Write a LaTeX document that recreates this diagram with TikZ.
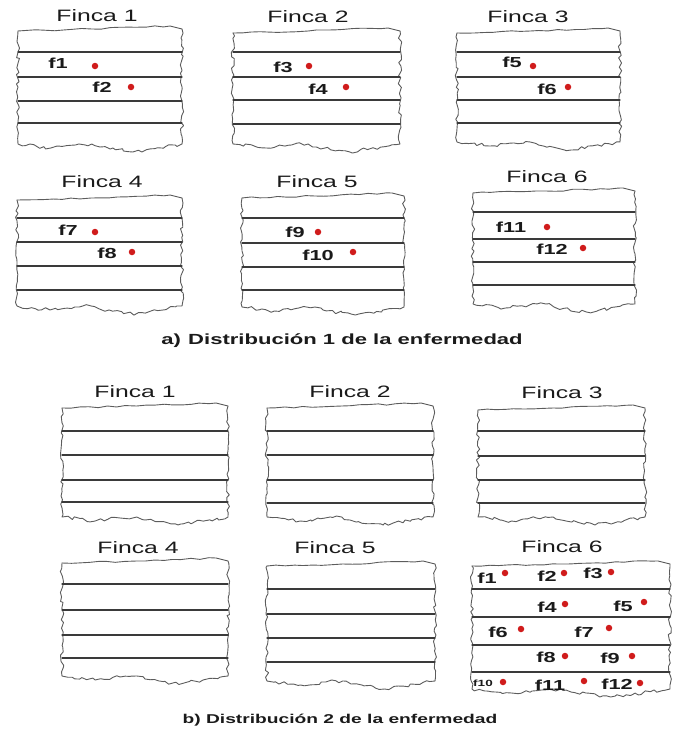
\documentclass[tikz,border=0pt]{standalone}
\usepackage{fontspec}
\setmainfont{Liberation Sans}
\newfontfamily\widesans[FakeStretch=1.5]{Liberation Sans}
\usetikzlibrary{decorations.pathmorphing}
\definecolor{ink}{HTML}{1A1A1A}
\definecolor{ink2}{HTML}{5C5C5C}
\definecolor{furrowc}{HTML}{3A3A3A}
\definecolor{lesion}{HTML}{D01C1C}
\tikzset{
  every picture/.style={line cap=round, line join=round},
  rimtop/.style={draw=ink2, line width=0.9pt, decorate,
    decoration={random steps, segment length=9pt, amplitude=0.8pt}},
  rimside/.style={draw=ink2, line width=0.9pt, decorate,
    decoration={random steps, segment length=4pt, amplitude=1.7pt}},
  furrow/.style={draw=furrowc, line width=1.3pt},
  title/.style={font=\widesans\fontsize{16.5}{18}\selectfont, text=ink, inner sep=0pt},
  flbl/.style={font=\widesans\bfseries\fontsize{14.5}{16}\selectfont, text=ink, inner sep=0pt},
  hit/.style={circle, fill=lesion, draw=none, inner sep=0pt, minimum size=6.5pt},
  capt/.style={font=\widesans\bfseries\fontsize{14.7}{17}\selectfont, text=ink, inner sep=0pt},
}

\begin{document}
\begin{tikzpicture}[x=1pt, y=-1pt]
  \useasboundingbox (0,0) rectangle (675,731);
  \pgfmathsetseed{12}
  % =================== (a) distribucion 1 ===================
  \foreach \n/\l/\r/\t/\b/\ys/\tx/\ty in {
      1/18/182/28/150/{52,77,101,123}/97/16,
      2/233/400/30/150/{52,77,100,124}/308/17,
      3/457/620/30/148/{52,77,100,123}/528/17,
      4/17/182/197/312/{218,242,266,290}/102/182,
      5/242/404/195/313/{218,243,267,290}/317/182,
      6/473/635/190/310/{212,239,262,285}/547/177}{
    \draw[rimtop] (\l,\t+3) -- ({\l+0.45*(\r-\l)},\t+1) -- (\r-12,\t-2) -- (\r,\t+1);
    \draw[rimside] (\r,\t+1) -- (\r,\b-6) -- ({\r-0.3*(\r-\l)},\b+2)
      -- ({\l+0.5*(\r-\l)},\b-3) -- ({\l+0.45*(\r-\l)},\b-6) -- ({\l+0.35*(\r-\l)},\b-5)
      -- ({\l+0.2*(\r-\l)},\b-2) -- (\l,\b-6) -- (\l,\t+3);
    \foreach \y in \ys {\draw[furrow] (\l,\y) -- (\r,\y);}
    \node[title] (ta\n) at (\tx,\ty) {Finca \n};
  }
  \foreach \k/\lx/\ly/\dx/\dy in {1/58/63/95/66, 2/102/87/131/87, 3/283/67/309/66,
      4/318/89/346/87, 5/512/62/533/66, 6/547/89/568/87, 7/68/230/95/232,
      8/107/253/132/252, 9/295/232/318/232, 10/318/255/353/252,
      11/511/227/547/227, 12/552/249/583/248}{
    \node[flbl] (fa\k) at (\lx,\ly) {f\k};
    \node[hit] (da\k) at (\dx,\dy) {};
  }
  \node[capt] (capa) at (342,341) {a)\enspace Distribución 1 de la enfermedad};

  % =================== (b) distribucion 2 ===================
  \foreach \n/\l/\r/\t/\b/\ys/\tx/\ty in {
      1/62/228/405/523/{431,455,480,502}/135/392,
      2/267/433/405/523/{431,455,480,503}/350/392,
      3/478/645/407/523/{431,456,480,503}/562/393,
      4/62/228/560/682/{584,610,635,658}/138/548,
      5/267/435/563/687/{589,614,638,662}/335/548,
      6/472/670/563/695/{589,617,645,672}/562/547}{
    \draw[rimtop] (\l,\t+3) -- ({\l+0.45*(\r-\l)},\t+1) -- (\r-12,\t-2) -- (\r,\t+1);
    \draw[rimside] (\r,\t+1) -- (\r,\b-6) -- ({\r-0.3*(\r-\l)},\b+2)
      -- ({\l+0.5*(\r-\l)},\b-3) -- ({\l+0.45*(\r-\l)},\b-6) -- ({\l+0.35*(\r-\l)},\b-5)
      -- ({\l+0.2*(\r-\l)},\b-2) -- (\l,\b-6) -- (\l,\t+3);
    \foreach \y in \ys {\draw[furrow] (\l,\y) -- (\r,\y);}
    \node[title] (tb\n) at (\tx,\ty) {Finca \n};
  }
  \foreach \k/\lx/\ly/\dx/\dy in {1/487/578/505/573, 2/547/576/564/573, 3/593/573/611/572,
      4/547/607/565/604, 5/623/606/644/602, 6/498/632/521/629, 7/584/632/609/628,
      8/546/657/565/656, 9/610/658/632/656, 11/550/685/584/681, 12/617/684/640/683}{
    \node[flbl] (fb\k) at (\lx,\ly) {f\k};
    \node[hit] (db\k) at (\dx,\dy) {};
  }
  \node[flbl, font=\widesans\bfseries\fontsize{9}{10}\selectfont] (fb10) at (483,683) {f10};
  \node[hit] (db10) at (503,682) {};
  \node[capt, font=\widesans\bfseries\fontsize{12.8}{15}\selectfont] (capb) at (340,720)
    {b) Distribución 2 de la enfermedad};
\end{tikzpicture}
\end{document}
